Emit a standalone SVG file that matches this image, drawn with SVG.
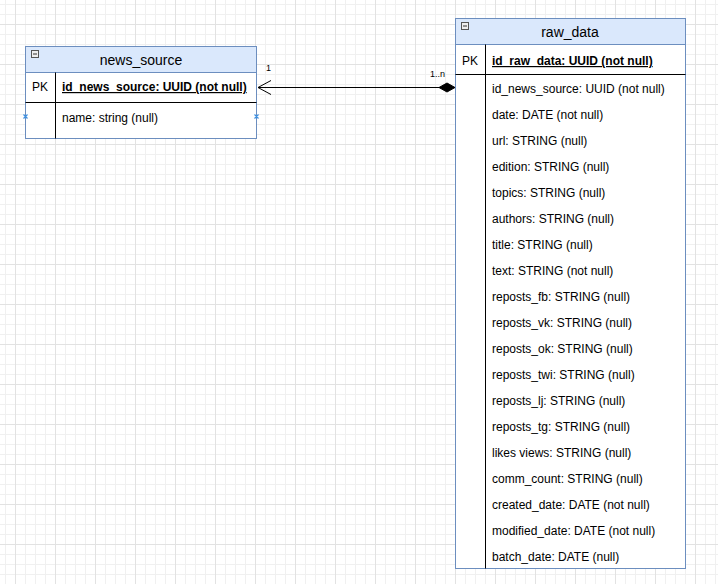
<svg xmlns="http://www.w3.org/2000/svg" width="718" height="584" viewBox="0 0 718 584">
<defs>
<pattern id="minor" width="10" height="10" patternUnits="userSpaceOnUse" x="5" y="4">
<path d="M0 0.5H10M0.5 0V10" stroke="#f0f0f0" stroke-width="1" fill="none"/>
</pattern>
<pattern id="major" width="40" height="40" patternUnits="userSpaceOnUse" x="15" y="24">
<path d="M0 0.5H40M0.5 0V40" stroke="#e2e2e2" stroke-width="1" fill="none"/>
</pattern>
<marker id="open" markerWidth="16" markerHeight="16" refX="1" refY="8" orient="auto" markerUnits="userSpaceOnUse">
<path d="M14 1L1 8L14 15" fill="none" stroke="#000" stroke-width="1"/>
</marker>
<marker id="diamond" markerWidth="18" markerHeight="12" refX="17" refY="6" orient="auto" markerUnits="userSpaceOnUse">
<path d="M1 6L9 1.5L17 6L9 10.5Z" fill="#000" stroke="#000"/>
</marker>
</defs>
<style>
text{font-family:"Liberation Sans",Arial,sans-serif;fill:#000}
.attr{font-size:12px}
.title{font-size:14px;text-anchor:middle}
.pk{font-size:12px;text-anchor:middle}
.key{font-size:12px;font-weight:bold;text-decoration:underline}
.hdr{fill:#dae8fc;stroke:#6c8ebf;stroke-width:1}
.body{fill:#fff;stroke:#6c8ebf;stroke-width:1}
.sep{stroke:#000;stroke-width:1;fill:none}
.icon{fill:#eee;stroke:#555;stroke-width:1}
.lbl{font-size:9px}
.pt{stroke:#3d8fe0;stroke-width:1.2}
</style>
<rect width="718" height="584" fill="#fff"/>
<rect width="718" height="584" fill="url(#minor)"/>
<rect width="718" height="584" fill="url(#major)"/>

<g id="news_source">
<rect class="body" x="25.5" y="46.5" width="231" height="92"/>
<rect class="hdr" x="25.5" y="46.5" width="231" height="26"/>
<rect class="icon" x="31.5" y="50.5" width="7" height="7"/>
<path d="M33 54H37" stroke="#333"/>
<text class="title" x="141" y="65">news_source</text>
<path class="sep" d="M55.5 72.5V138.5M25.5 102.5H256.5"/>
<text class="pk" x="40" y="91">PK</text>
<text class="key" x="62" y="91">id_news_source: UUID (not null)</text>
<text class="attr" x="62" y="122">name: string (null)</text>
<path class="pt" d="M23.5 114.5L27.5 118.5M27.5 114.5L23.5 118.5M254.5 114.5L258.5 118.5M258.5 114.5L254.5 118.5"/>
</g>

<g id="raw_data">
<rect class="body" x="455.5" y="18.5" width="230" height="550"/>
<rect class="hdr" x="455.5" y="18.5" width="230" height="26"/>
<rect class="icon" x="461.5" y="22.5" width="7" height="7"/>
<path d="M463 26H467" stroke="#333"/>
<text class="title" x="570" y="37">raw_data</text>
<path class="sep" d="M485.5 44.5V568.5M455.5 74.5H685.5"/>
<text class="pk" x="470" y="65">PK</text>
<text class="key" x="492" y="65">id_raw_data: UUID (not null)</text>
<text class="attr" x="492" y="93">id_news_source: UUID (not null)</text>
<text class="attr" x="492" y="119">date: DATE (not null)</text>
<text class="attr" x="492" y="145">url: STRING (null)</text>
<text class="attr" x="492" y="171">edition: STRING (null)</text>
<text class="attr" x="492" y="197">topics: STRING (null)</text>
<text class="attr" x="492" y="223">authors: STRING (null)</text>
<text class="attr" x="492" y="249">title: STRING (null)</text>
<text class="attr" x="492" y="275">text: STRING (not null)</text>
<text class="attr" x="492" y="301">reposts_fb: STRING (null)</text>
<text class="attr" x="492" y="327">reposts_vk: STRING (null)</text>
<text class="attr" x="492" y="353">reposts_ok: STRING (null)</text>
<text class="attr" x="492" y="379">reposts_twi: STRING (null)</text>
<text class="attr" x="492" y="405">reposts_lj: STRING (null)</text>
<text class="attr" x="492" y="431">reposts_tg: STRING (null)</text>
<text class="attr" x="492" y="457">likes views: STRING (null)</text>
<text class="attr" x="492" y="483">comm_count: STRING (null)</text>
<text class="attr" x="492" y="509">created_date: DATE (not null)</text>
<text class="attr" x="492" y="535">modified_date: DATE (not null)</text>
<text class="attr" x="492" y="561">batch_date: DATE (null)</text>
</g>

<g id="connectors">
<path d="M258 87.5H455" fill="none" stroke="#000" stroke-width="1" marker-start="url(#open)" marker-end="url(#diamond)"/>
<text class="lbl" x="266" y="71">1</text>
<text class="lbl" x="430" y="77">1..n</text>
</g>
</svg>
